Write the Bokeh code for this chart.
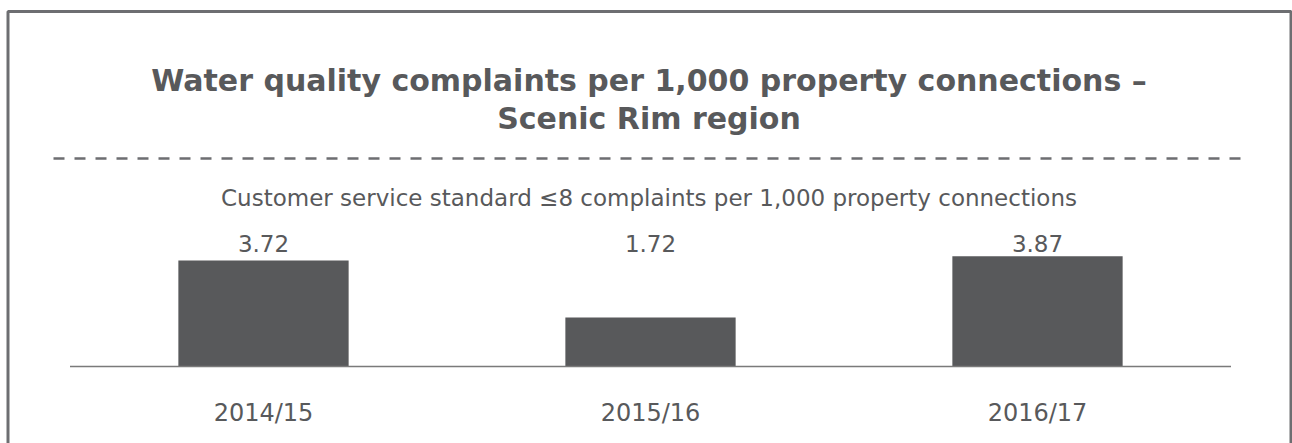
from bokeh.plotting import figure
from bokeh.models import Range1d
from bokeh.core.properties import value
from bokeh.embed import file_html
from bokeh.resources import INLINE

# ---- data ----
title_lines = ["Water quality complaints per 1,000 property connections –", "Scenic Rim region"]
subtitle = "Customer service standard ≤8 complaints per 1,000 property connections"
years = ["2014/15", "2015/16", "2016/17"]
complaints = [3.72, 1.72, 3.87]
value_labels = ["3.72", "1.72", "3.87"]

# ---- layout constants ----
W, H = 1292, 443
BASE = 366            # canvas y (from top) of the zero line
PX_PER_UNIT = 28.5    # pixels per complaint unit
SLOT = 387.0          # pixels per category slot
FIRST = 263           # canvas x of first category centre
DARK = "#58595b"
FRAME = "#6d6e71"
FONT = value("DejaVu Sans")

pos = list(range(len(years)))   # category positions on the x scale

p = figure(width=W, height=H,
           x_range=Range1d(-FIRST / SLOT, (W - FIRST) / SLOT),
           y_range=Range1d(-(H - BASE) / PX_PER_UNIT, BASE / PX_PER_UNIT),
           x_axis_location=None, y_axis_location=None, title=None,
           min_border=0, toolbar_location=None, output_backend="svg")
p.extra_x_ranges = {"px": Range1d(0, W)}
p.extra_y_ranges = {"px": Range1d(H, 0)}
p.grid.grid_line_color = None
p.grid.visible = False
p.outline_line_color = None
p.background_fill_color = "white"
p.border_fill_color = "white"

# outer frame (open at the bottom)
p.line(x=[7.5, 7.5, 1290.5, 1290.5], y=[H + 5, 11, 11, H + 5],
       x_range_name="px", y_range_name="px", line_color=FRAME, line_width=3)

# dashed separator
p.line(x=[53, 1244], y=[158, 158], x_range_name="px", y_range_name="px",
       line_color=FRAME, line_width=2.5, line_dash="11 10")

# title
p.text(x=[648.5, 648.5], y=[80, 118], text=title_lines,
       x_range_name="px", y_range_name="px",
       text_align="center", text_baseline="alphabetic",
       text_font=FONT, text_font_style="bold",
       text_font_size="30px", text_color=DARK)

# subtitle
p.text(x=[648.5], y=[197], text=[subtitle], x_range_name="px", y_range_name="px",
       text_align="center", text_baseline="alphabetic",
       text_font=FONT, text_font_size="23px", text_color=DARK)

# bars
p.vbar(x=pos, top=complaints, bottom=0, width=0.44, fill_color=DARK, line_color=None)

# baseline
p.line(x=[-0.5, len(years) - 0.5], y=[0, 0], line_color="#7a7a7a", line_width=1.3)

# value labels (fixed row)
p.text(x=pos, y=[243] * 3, text=value_labels, y_range_name="px",
       text_align="center", text_baseline="alphabetic",
       text_font=FONT, text_font_size="23px", text_color=DARK)

# category labels
p.text(x=pos, y=[412] * 3, text=years, y_range_name="px",
       text_align="center", text_baseline="alphabetic",
       text_font=FONT, text_font_size="24px", text_color=DARK)

open("out.html", "w").write(file_html(p, INLINE))
